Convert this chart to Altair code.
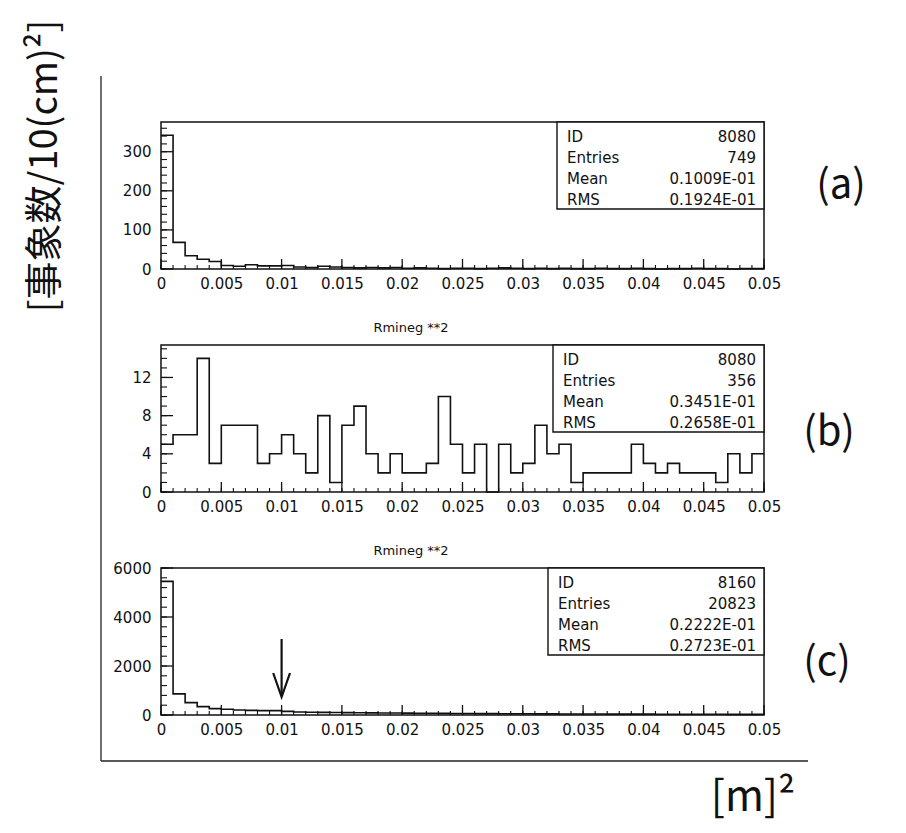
import altair as alt
import pandas as pd

# ---- histogram contents: 50 bins of width 0.001 over [0, 0.05] ----
x_edges = [i / 1000 for i in range(51)]

counts_a = [342, 68, 34, 25, 19, 9, 7, 11, 8, 8,
            9, 5, 4, 7, 5, 4, 3, 4, 3, 4,
            2, 3, 2, 1, 2, 2, 1, 2, 3, 2,
            1, 2, 1, 2, 1, 1, 2, 1, 1, 2,
            1, 0, 1, 1, 2, 1, 1, 0, 1, 1]

counts_b = [5, 6, 6, 14, 3, 7, 7, 7, 3, 4,
            6, 4, 2, 8, 1, 7, 9, 4, 2, 4,
            2, 2, 3, 10, 5, 2, 5, 0, 5, 2,
            3, 7, 4, 5, 1, 2, 2, 2, 2, 5,
            3, 2, 3, 2, 2, 2, 1, 4, 2, 4]

counts_c = [5455, 863, 507, 342, 260, 233, 205, 190, 178, 178,
            150, 121, 114, 106, 101, 97, 93, 87, 83, 80,
            75, 73, 69, 66, 63, 61, 57, 56, 53, 51,
            50, 47, 46, 43, 42, 40, 39, 37, 36, 35,
            34, 32, 31, 30, 30, 28, 28, 27, 26, 25]

stats_a = [("ID", "8080"), ("Entries", "749"), ("Mean", "0.1009E-01"), ("RMS", "0.1924E-01")]
stats_b = [("ID", "8080"), ("Entries", "356"), ("Mean", "0.3451E-01"), ("RMS", "0.2658E-01")]
stats_c = [("ID", "8160"), ("Entries", "20823"), ("Mean", "0.2222E-01"), ("RMS", "0.2723E-01")]

x_major = [0, 0.005, 0.01, 0.015, 0.02, 0.025, 0.03, 0.035, 0.04, 0.045, 0.05]
hist_title = "Rmineg **2"

W, H = 603, 147
FONT = "DejaVu Sans"
HAND = "Noto Sans CJK JP"
INK = "#111111"

xs = alt.Scale(domain=[0, 0.05], nice=False, zero=False)
x_axis = alt.Axis(
    values=x_major, format="~g", title=None, ticks=False, domain=False,
    grid=False, labelPadding=7, labelFontSize=15, labelFont=FONT,
    labelColor=INK, labelOverlap=False, labelBound=False, labelFlush=False)


def y_axis(values):
    return alt.Axis(
        values=values, format="d", title=None, ticks=False, domain=False, grid=False,
        labelPadding=10, labelFontSize=15, labelFont=FONT, labelColor=INK,
        labelOverlap=False, labelBound=False)


def const(text, x, y, size, align="center", angle=0, font=FONT, baseline="middle"):
    """A single piece of text placed in pixel coordinates of the panel."""
    kw = dict(align=align, baseline=baseline, fontSize=size, font=font, color=INK)
    if angle:
        kw["angle"] = angle
    return alt.Chart(pd.DataFrame({"t": [text]})).mark_text(**kw).encode(
        text="t:N", x=alt.value(x), y=alt.value(y))


def panel(counts, ymax, y_major, y_minor, stats, box_left, title=None, extra=()):
    ys = alt.Scale(domain=[0, ymax], nice=False, zero=True)
    ya = y_axis(y_major)

    rows = [{"x": x_edges[i], "n": counts[i]} for i in range(50)]
    rows.append({"x": x_edges[50], "n": counts[-1]})
    hist = alt.Chart(pd.DataFrame(rows)).mark_line(
        interpolate="step-after", color=INK, strokeWidth=1.6
    ).encode(
        x=alt.X("x:Q", scale=xs, axis=x_axis),
        y=alt.Y("n:Q", scale=ys, axis=ya),
    )

    # inward-pointing tick marks, long on labelled values, short in between
    xt_major = alt.Chart(pd.DataFrame({"x": x_major})).mark_rule(color=INK, strokeWidth=1.3).encode(
        x=alt.X("x:Q", scale=xs, axis=x_axis), y=alt.value(H), y2=alt.value(H - 10))
    xt_minor = alt.Chart(pd.DataFrame({"x": x_edges})).mark_rule(color=INK, strokeWidth=1.1).encode(
        x=alt.X("x:Q", scale=xs, axis=x_axis), y=alt.value(H), y2=alt.value(H - 4))
    yt_major = alt.Chart(pd.DataFrame({"n": y_major})).mark_rule(color=INK, strokeWidth=1.3).encode(
        y=alt.Y("n:Q", scale=ys, axis=ya), x=alt.value(0), x2=alt.value(12))
    yt_minor = alt.Chart(pd.DataFrame({"n": y_minor})).mark_rule(color=INK, strokeWidth=1.1).encode(
        y=alt.Y("n:Q", scale=ys, axis=ya), x=alt.value(0), x2=alt.value(6))

    # statistics box in the upper right corner
    box = alt.Chart(pd.DataFrame({"k": [0]})).mark_rect(
        fill="white", stroke=INK, strokeWidth=1.4
    ).encode(x=alt.value(box_left), x2=alt.value(W), y=alt.value(0), y2=alt.value(87))
    texts = []
    for i, (lab, val) in enumerate(stats):
        yy = 15 + i * 21
        texts.append(const(lab, box_left + 10, yy, 15, align="left"))
        texts.append(const(val, W - 8, yy, 15, align="right"))

    layers = [hist, xt_major, xt_minor, yt_major, yt_minor, box] + texts
    if title:
        layers.append(const(title, 250, -17, 13))
    layers.extend(extra)
    return alt.layer(*layers).properties(width=W, height=H)


def anchor(x, y):
    """Invisible zero-length rule that fixes the extent of the drawing."""
    return alt.Chart(pd.DataFrame({"k": [0]})).mark_rule(strokeOpacity=0).encode(
        x=alt.value(x), x2=alt.value(x), y=alt.value(y), y2=alt.value(y))


# surrounding frame and hand-written annotations
frame_v = alt.Chart(pd.DataFrame({"k": [0]})).mark_rule(color="#222222", strokeWidth=1.3).encode(
    x=alt.value(-60), y=alt.value(-46), y2=alt.value(639))
frame_h = alt.Chart(pd.DataFrame({"k": [0]})).mark_rule(color="#222222", strokeWidth=1.3).encode(
    x=alt.value(-60), x2=alt.value(647), y=alt.value(639))
y_label = const("[事象数/10(cm)²]", -115, 44, 38, angle=270, font=HAND)
tag_a = const("(a)", 680, 64, 40, font=HAND)

tag_b = const("(b)", 668, 88, 40, font=HAND)

arrow_line = alt.Chart(pd.DataFrame({"x": [0.01]})).mark_rule(color=INK, strokeWidth=2.2).encode(
    x=alt.X("x:Q", scale=xs, axis=x_axis), y=alt.value(71), y2=alt.value(128))
arrow_head = alt.Chart(pd.DataFrame({"x": [0.01]})).mark_point(
    shape="M -0.7 -2 L 0 0 L 0.7 -2", filled=False, size=576, color=INK, strokeWidth=2.2, opacity=1
).encode(x=alt.X("x:Q", scale=xs, axis=x_axis), y=alt.value(129))
tag_c = const("(c)", 666, 95, 40, font=HAND)
unit_x = const("[m]²", 592, 230, 42, font=HAND)

pa = panel(counts_a, 376, [0, 100, 200, 300], list(range(0, 377, 20)), stats_a, 396,
           extra=[anchor(-160, -121), frame_v, frame_h, y_label, tag_a])
pb = panel(counts_b, 15.4, [0, 4, 8, 12], list(range(0, 16)), stats_b, 392,
           title=hist_title, extra=[tag_b])
pc = panel(counts_c, 6000, [0, 2000, 4000, 6000], list(range(0, 6001, 400)), stats_c, 387,
           title=hist_title, extra=[arrow_line, arrow_head, tag_c, unit_x, anchor(730, 264)])

chart = alt.vconcat(pa, pb, pc, spacing=76, bounds="flush").properties(
    padding=0, background="white"
).configure_view(stroke=INK, strokeWidth=1.5)

chart.save("out.html", embed_options={"renderer": "svg", "actions": False})
